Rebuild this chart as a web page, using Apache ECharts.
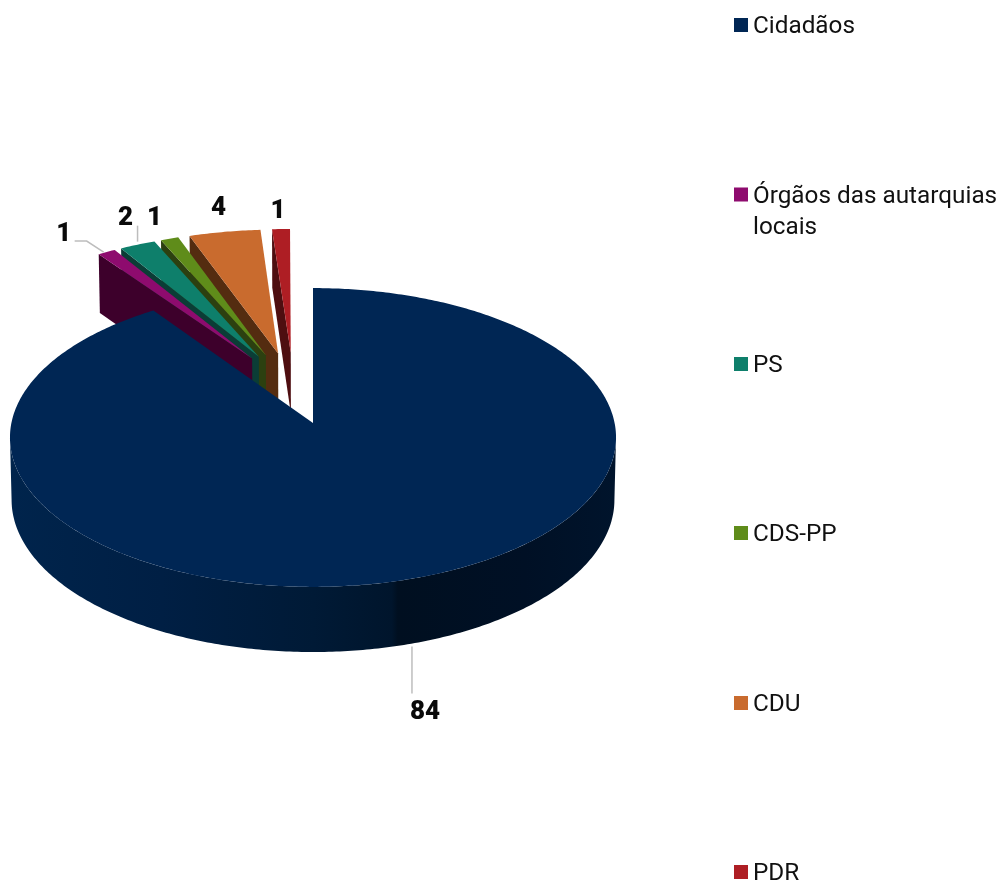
<!DOCTYPE html>
<html><head><meta charset="utf-8">
<style>html,body{margin:0;padding:0;background:#fff}#c{width:1003px;height:884px}</style>
<script src="https://cdn.jsdelivr.net/npm/echarts@6/dist/echarts.min.js"></script>
</head><body><div id="c"></div>
<script>
const categories = ['Cidadãos','Órgãos das autarquias locais','PS','CDS-PP','CDU','PDR'];
const values = [84,1,2,1,4,1];
const topColors = ['#002654','#8E0B6E','#0E7F6B','#5F8C1A','#C96B2E','#AE1E24'];
const wallColors = ['#001a3a','#3D002B','#0B3D36','#2C4010','#542C10','#4E0E10'];
const legendLabels = ['Cidadãos','\nÓrgãos das autarquias\nlocais','PS','CDS-PP','CDU','PDR'];
const legendCenters = [25,194.5,364,533,703,872];
const drawOrder = [5,4,3,2,1,0];

// projection of the tilted pie
const ORIGIN_X = 313, PERSP = 0.097, EXPLODE = 0.262;
const TOP = {Y0:423, A:148, B:301.6};
const BOTTOM = {Y0:485, A:150.8, B:300};
function project(u,v,plane){
  const s = 1 + PERSP*v;
  return [ORIGIN_X + plane.B*u/s, plane.Y0 - plane.A*v/s];
}
const total = values.reduce((a,b)=>a+b,0);
const rad = d => d*Math.PI/180;
const dir = d => [Math.sin(rad(d)),Math.cos(rad(d))];
let acc = 0;
const slices = values.map(v=>{
  const start = acc/total*360; acc += v;
  const end = acc/total*360;
  return {start,end,mid:(start+end)/2};
});
const C = dir(slices[0].mid).map(x=>-EXPLODE*x);
slices.forEach((s,i)=>{
  const d = dir(s.mid);
  s.apex = [C[0]+EXPLODE*d[0], C[1]+EXPLODE*d[1]];
  s.stretch = i===0 ? [1,1] : [1.012,0.99];
  s.tip = i===0 ? s.apex : [s.apex[0]+0.01, s.apex[1]-0.015];
});
function rimPoint(s,deg){
  const d = dir(deg);
  return [s.apex[0]+d[0]*s.stretch[0], s.apex[1]+d[1]*s.stretch[1]];
}
function rim(s,a,b,plane){
  const pts=[], n=Math.max(2,Math.ceil(Math.abs(b-a)*1.5));
  for(let k=0;k<=n;k++){
    const p=rimPoint(s,a+(b-a)*k/n);
    pts.push(project(p[0],p[1],plane));
  }
  return pts;
}
// label placement relative to the slice's rim midpoint: [label dx,dy], leader points
const labelPlacement = [
  {plane:BOTTOM,off:[13,69],leader:[[0,3],[0,50]]},
  {plane:TOP,off:[-43,-18],leader:[[-3,0],[-20,-11],[-32,-11]]},
  {plane:TOP,off:[-12,-26],leader:[[0,-3],[0,-19]]},
  {plane:TOP,off:[-15,-20],leader:null},
  {plane:TOP,off:[-6,-23],leader:null},
  {plane:TOP,off:[-3,-18],leader:null}
];
function renderSlice(i){
  return function(params,api){
    const s = slices[i], value = api.value(0), kids=[];
    const ap=project(s.tip[0],s.tip[1],TOP), ab=project(s.tip[0],s.tip[1],BOTTOM);
    if(i===0){
      const ext = Math.asin(PERSP)*180/Math.PI;
      const a=90+ext,b=270-ext;
      kids.push({type:'polygon',shape:{points:rim(s,a,b,TOP).concat(rim(s,a,b,BOTTOM).reverse())},
        style:{fill:new echarts.graphic.LinearGradient(0,0,1,0,[
          {offset:0,color:'#00244c'},{offset:0.25,color:'#001f44'},{offset:0.5,color:'#001a36'},
          {offset:0.63,color:'#00152c'},{offset:0.64,color:'#000f20'},{offset:0.85,color:'#001025'},{offset:1,color:'#00142c'}])}});
    }else{
      const r=rimPoint(s,s.start);
      kids.push({type:'polygon',shape:{points:[project(r[0],r[1],TOP),ap,ab,project(r[0],r[1],BOTTOM)]},
        style:{fill:wallColors[i]}});
    }
    kids.push({type:'polygon',shape:{points:[ap].concat(rim(s,s.start,s.end,TOP))},style:{fill:topColors[i]}});
    const pl=labelPlacement[i], m=rimPoint(s,s.mid), anchor=project(m[0],m[1],pl.plane);
    if(pl.leader){
      kids.push({type:'polyline',shape:{points:pl.leader.map(o=>[anchor[0]+o[0],anchor[1]+o[1]])},
        style:{fill:null,stroke:'#BDBDBD',lineWidth:1.5}});
    }
    kids.push({type:'text',style:{x:anchor[0]+pl.off[0],y:anchor[1]+pl.off[1],text:String(value),
      fill:'#0a0a0a',font:'900 26px Roboto',align:'center',verticalAlign:'middle'}});
    return {type:'group',children:kids};
  };
}
const chart = echarts.init(document.getElementById('c'),null,{renderer:'canvas'});
chart.setOption({
  animation:false,
  backgroundColor:'#fff',
  tooltip:{show:false},
  legend:categories.map((name,i)=>{
    const lines=legendLabels[i].split('\n').length, lh=31;
    return {
      data:[name],left:734,top:legendCenters[i]+2-lines*lh/2,padding:0,orient:'vertical',
      icon:'path://M0,0H14V14H0Z M0,18L0.01,18Z',itemWidth:14,itemHeight:18,selectedMode:false,
      formatter:()=>legendLabels[i],
      textStyle:{fontFamily:'Roboto',fontSize:24.3,color:'#111',lineHeight:lh}
    };
  }),
  series:drawOrder.map((i,order)=>({
    type:'custom',name:categories[i],coordinateSystem:'none',
    z:2+order,silent:true,
    itemStyle:{color:topColors[i]},
    data:[[values[i]]],
    renderItem:renderSlice(i)
  }))
});
</script></body></html>
